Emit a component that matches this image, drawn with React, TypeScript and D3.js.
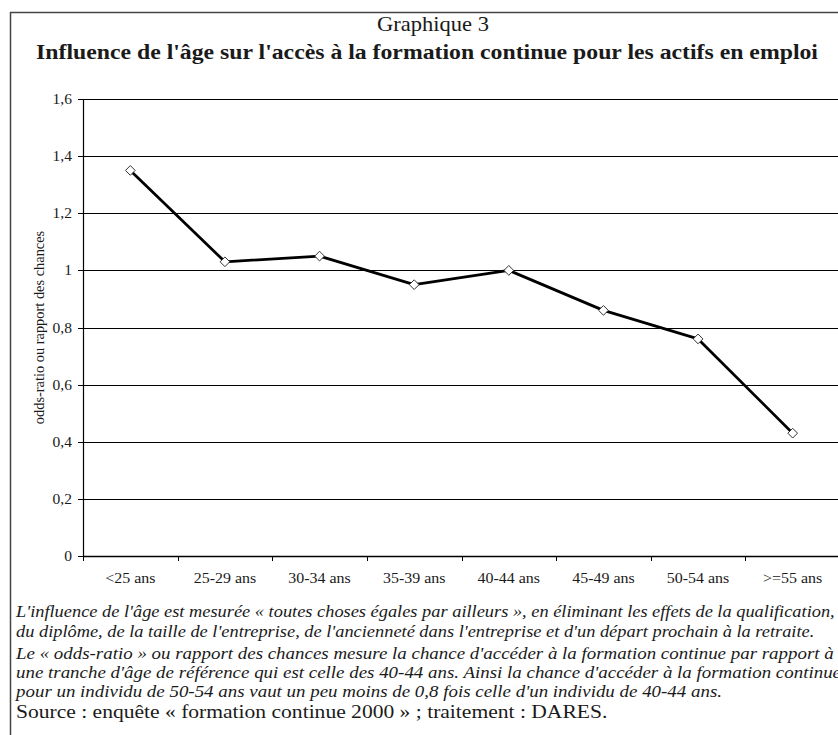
import React from "react";
import * as d3 from "d3";

const categories = ["<25 ans", "25-29 ans", "30-34 ans", "35-39 ans", "40-44 ans", "45-49 ans", "50-54 ans", ">=55 ans"];
const oddsRatio = [1.35, 1.03, 1.05, 0.95, 1.0, 0.86, 0.76, 0.43];
const yTicks = [0, 0.2, 0.4, 0.6, 0.8, 1, 1.2, 1.4, 1.6];
const titleLine1 = "Graphique 3";
const titleLine2 = "Influence de l'âge sur l'accès à la formation continue pour les actifs en emploi";
const yAxisLabel = "odds-ratio ou rapport des chances";
const noteLines = [
  "L'influence de l'âge est mesurée « toutes choses égales par ailleurs », en éliminant les effets de la qualification,",
  "du diplôme, de la taille de l'entreprise, de l'ancienneté dans l'entreprise et d'un départ prochain à la retraite.",
  "Le « odds-ratio » ou rapport des chances mesure la chance d'accéder à la formation continue par rapport à",
  "une tranche d'âge de référence qui est celle des 40-44 ans. Ainsi la chance d'accéder à la formation continue",
  "pour un individu de 50-54 ans vaut un peu moins de 0,8 fois celle d'un individu de 40-44 ans.",
];
const sourceLine = "Source : enquête « formation continue 2000 » ; traitement : DARES.";

const W = 838;
const H = 735;
const FONT = "Liberation Serif, Times New Roman, serif";
const SX = 1.1;

type TProps = {
  x: number;
  y: number;
  size: number;
  anchor?: "start" | "middle" | "end";
  bold?: boolean;
  italic?: boolean;
  children: React.ReactNode;
};

function T({ x, y, size, anchor = "start", bold, italic, children }: TProps) {
  return (
    <g transform={`translate(${x},${y}) scale(${SX},1)`}>
      <text
        x={0}
        y={0}
        textAnchor={anchor}
        fontSize={size}
        fontWeight={bold ? "bold" : "normal"}
        fontStyle={italic ? "italic" : "normal"}
        fill="#1a1a1a"
        style={{ fontFamily: FONT }}
      >
        {children}
      </text>
    </g>
  );
}

export default function App() {
  const left = 83;
  const right = 840;
  const top = 99;
  const bottom = 556;
  const x = d3.scaleBand<string>().domain(categories).range([left, right]).padding(0);
  const y = d3.scaleLinear().domain([0, 1.6]).range([bottom, top]);
  const fmt = (v: number) => d3.format("~g")(v).replace(".", ",");
  const cx = (i: number) => (x(categories[i]) as number) + x.bandwidth() / 2;
  const line = d3
    .line<number>()
    .x((_, i) => cx(i))
    .y((d) => y(d));
  const tickXs = categories.map((c) => x(c) as number).concat([right]);
  const diamond = d3.symbol().type(d3.symbolDiamond2).size(60)();

  const noteY = [617, 637, 659, 678, 697];
  const noteSize = [16.7, 16.7, 17.2, 17.2, 17.2];

  return (
    <svg
      width={W}
      height={H}
      style={{ position: "absolute", left: 0, top: 0, background: "#fff", fontFamily: FONT }}
    >
      <rect x={0} y={0} width={W} height={H} fill="#fff" />
      <line x1={10.5} y1={12} x2={10.5} y2={H} stroke="#444" strokeWidth={1.5} />
      <line x1={10} y1={12.5} x2={W} y2={12.5} stroke="#444" strokeWidth={1.5} />

      <T x={433} y={31} size={20.5} anchor="middle">{titleLine1}</T>
      <T x={427} y={59} size={21.6} anchor="middle" bold>{titleLine2}</T>

      {yTicks.map((t) => (
        <line key={"g" + t} x1={left - 5} x2={right} y1={Math.round(y(t)) + 0.5} y2={Math.round(y(t)) + 0.5} stroke="#000" strokeWidth={1.2} />
      ))}
      {yTicks.map((t) => (
        <T key={"yt" + t} x={72} y={y(t) + 5} size={14.1} anchor="end">{fmt(t)}</T>
      ))}
      <line x1={left + 0.5} x2={left + 0.5} y1={top} y2={bottom} stroke="#000" strokeWidth={1.2} />
      <line x1={left} x2={right} y1={bottom + 0.5} y2={bottom + 0.5} stroke="#000" strokeWidth={1.5} />
      {tickXs.map((tx, i) => (
        <line key={"xt" + i} x1={Math.round(tx) + 0.5} x2={Math.round(tx) + 0.5} y1={bottom} y2={bottom + 5} stroke="#000" strokeWidth={1} />
      ))}
      {categories.map((c, i) => (
        <T key={"xl" + c} x={cx(i)} y={583} size={14.5} anchor="middle">{c}</T>
      ))}
      <text
        transform={`translate(44, ${(top + bottom) / 2}) rotate(-90)`}
        textAnchor="middle"
        fontSize={14.4}
        fill="#1a1a1a"
        style={{ fontFamily: FONT }}
      >
        {yAxisLabel}
      </text>

      <path d={line(oddsRatio) || ""} fill="none" stroke="#000" strokeWidth={2.75} strokeLinejoin="round" />
      {oddsRatio.map((v, i) => (
        <path
          key={"m" + i}
          d={diamond || ""}
          transform={`translate(${cx(i)}, ${y(v)})`}
          fill="#fff"
          stroke="#333"
          strokeWidth={1}
        />
      ))}

      {noteLines.map((l, i) => (
        <T key={"n" + i} x={16} y={noteY[i]} size={noteSize[i]} italic>{l}</T>
      ))}
      <T x={16} y={718} size={19.6}>{sourceLine}</T>
    </svg>
  );
}
